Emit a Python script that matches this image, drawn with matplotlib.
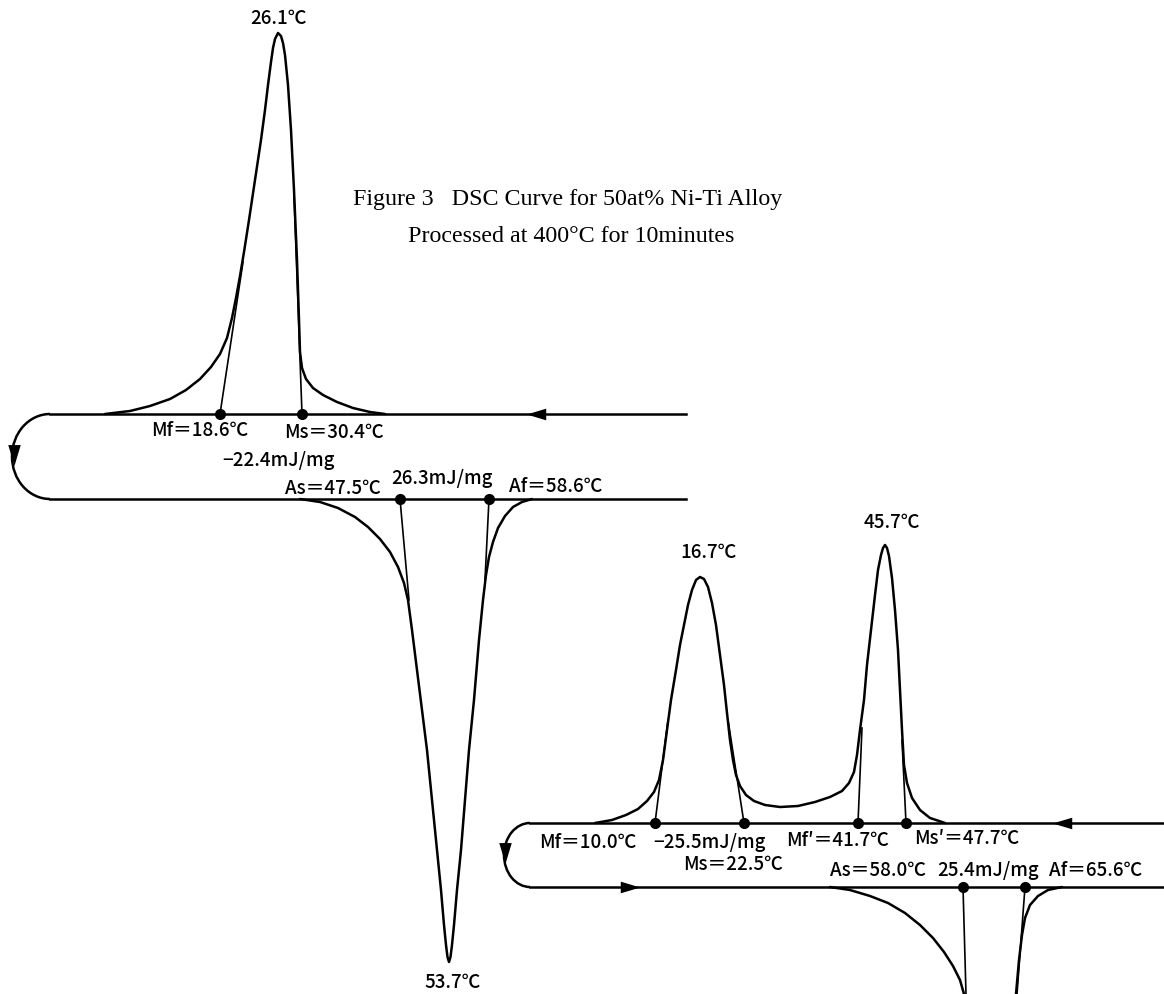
import numpy as np
import matplotlib
matplotlib.use("Agg")
import matplotlib.pyplot as plt
from matplotlib.patches import Arc
from matplotlib.path import Path

# Schematic DSC traces on a 1164 x 994 canvas (y down)
# --- 400C / 10 min sample: cooling peak (top) and heating dip (bottom)
cool1_x = [105, 130, 150, 170, 186, 200, 211, 220, 227, 232, 236, 240, 244, 249, 255, 261, 265, 268,
           271, 273, 275, 278, 281, 283, 285, 288, 291, 294, 297, 299, 300, 302, 306, 313, 323, 337,
           353, 370, 385]
cool1_y = [414, 411, 406, 399, 390, 379, 367, 354, 338, 318, 298, 276, 252, 220, 180, 140, 110, 85,
           62, 48, 39, 33, 36, 43, 55, 85, 130, 190, 260, 320, 352, 368, 379, 388, 395, 402,
           408, 412, 414]
heat1_x = [300, 320, 338, 355, 368, 380, 390, 398, 404, 408, 412, 417, 422, 427, 432, 437, 441, 444,
           446, 447.5, 449, 450.5, 452, 454, 457, 461, 465, 469, 474, 479, 483, 486, 489, 493, 498,
           505, 513, 522, 532]
heat1_y = [499, 502, 508, 517, 527, 539, 552, 567, 583, 600, 630, 670, 710, 750, 800, 850, 890, 925,
           945, 957, 962, 957, 945, 925, 890, 850, 800, 750, 700, 640, 600, 575, 557, 542, 528,
           516, 507, 502, 499]

# --- second sample: double cooling peak and heating dip
cool2_x = [595, 612, 626, 638, 647, 654, 659, 663, 667, 671, 676, 680, 684, 688, 692, 696, 700, 704,
           708, 712, 716, 720, 724, 727, 730, 733, 736, 740, 746, 754, 765, 780, 798, 815, 830, 842,
           849, 854, 857, 860, 864, 867, 871, 875, 878, 881, 883, 885, 887, 889, 892, 895, 898, 900,
           902, 904, 907, 912, 920, 930, 945]
cool2_y = [823, 820, 815, 809, 801, 792, 780, 760, 730, 700, 670, 645, 625, 605, 590, 580, 577, 579,
           587, 603, 625, 655, 685, 713, 740, 760, 775, 786, 795, 801, 805, 807, 806, 802, 797, 791,
           783, 772, 755, 730, 700, 665, 630, 595, 570, 555, 548, 545, 548, 556, 578, 610, 650, 690,
           730, 765, 783, 798, 810, 818, 823]
heat2_x = [830, 850, 870, 888, 905, 920, 933, 944, 953, 960, 964, None,
           1016, 1019, 1022, 1025, 1030, 1038, 1048, 1062]
heat2_y = [887, 890, 896, 903, 913, 925, 938, 952, 966, 980, 994, None,
           994, 960, 935, 918, 905, 896, 890, 887]

# baselines (y) and their x extent
base1_top, base1_bot, base1_x = 414, 499, (50, 686)
base2_top, base2_bot, base2_x = 823, 887, (530, 1164)

# onset / offset tangent constructions: (dot x, dot y, end x, end y)
tangents = [
    (220, 414, 243, 262), (302, 414, 294, 195),
    (400, 499, 409, 600), (489, 499, 485, 580),
    (655, 823, 668, 720), (744, 823, 728, 720),
    (858, 823, 862, 728), (906, 823, 902, 740),
    (963, 887, 966, 994), (1025, 887, 1017, 994),
]

labels = ["26.1℃", "Mf＝18.6℃", "Ms＝30.4℃", "−22.4mJ/mg", "As＝47.5℃", "26.3mJ/mg",
          "Af＝58.6℃", "53.7℃", "16.7℃", "45.7℃", "Mf＝10.0℃", "−25.5mJ/mg", "Ms＝22.5℃",
          "Mf′＝41.7℃", "Ms′＝47.7℃", "As＝58.0℃", "25.4mJ/mg", "Af＝65.6℃"]
label_pos = [(278, 19), (200, 431), (334, 432), (278, 460), (333, 488), (442, 479),
             (556, 487), (453, 982), (709, 553), (892, 522), (588, 842), (709, 842), (733, 865),
             (838, 840), (967, 838), (878, 871), (988, 871), (1096, 871)]

title1 = "Figure 3   DSC Curve for 50at% Ni-Ti Alloy"
title2 = "Processed at 400°C for 10minutes"

fig = plt.figure(figsize=(11.64, 9.94), dpi=100)
ax = fig.add_axes([0, 0, 1, 1])
ax.set_xlim(0, 1164)
ax.set_ylim(994, 0)
ax.axis("off")

lw = 1.8
k = "black"

def curve(xs, ys):
    xs = np.array([np.nan if v is None else v for v in xs], dtype=float)
    ys = np.array([np.nan if v is None else v for v in ys], dtype=float)
    ax.plot(xs, ys, color=k, lw=lw, solid_joinstyle="round", solid_capstyle="round")

curve(cool1_x, cool1_y)
curve(heat1_x, heat1_y)
curve(cool2_x, cool2_y)
curve(heat2_x, heat2_y)

for yb, (x0, x1) in [(base1_top, base1_x), (base1_bot, base1_x),
                     (base2_top, base2_x), (base2_bot, base2_x)]:
    ax.plot([x0, x1], [yb, yb], color=k, lw=lw)

# return loops on the left
for (x0, x1), yt, yb, rx in [(base1_x, base1_top, base1_bot, 38), (base2_x, base2_top, base2_bot, 26)]:
    ax.add_patch(Arc((x0, (yt + yb) / 2), 2 * rx, yb - yt, theta1=90, theta2=270,
                     color=k, lw=lw))

# arrowheads
tri_left = Path([(-1, 0), (1, 0.6), (1, -0.6), (-1, 0)])
tri_right = Path([(1, 0), (-1, 0.6), (-1, -0.6), (1, 0)])
tri_down = Path([(0, -1), (0.6, 1), (-0.6, 1), (0, -1)])
ax.plot([536], [base1_top], marker=tri_left, ms=14, color=k, mew=0)
ax.plot([1062], [base2_top], marker=tri_left, ms=14, color=k, mew=0)
ax.plot([630], [base2_bot], marker=tri_right, ms=14, color=k, mew=0)
ax.plot([14], [455], marker=tri_down, ms=15, color=k, mew=0)
ax.plot([505], [853], marker=tri_down, ms=15, color=k, mew=0)

for x0, y0, x1, y1 in tangents:
    ax.plot([x0, x1], [y0, y1], color=k, lw=1.2)
    ax.plot([x0], [y0], "o", color=k, ms=7)

lab_font = ["Noto Sans CJK JP", "DejaVu Sans"]
for t, (x, y) in zip(labels, label_pos):
    ax.text(x, y, t, ha="center", va="center", fontsize=13.5, family=lab_font,
            fontweight="medium")

ax.text(353, 200, title1, ha="left", va="center", fontsize=17.3, family="Liberation Serif")
ax.text(408, 237, title2, ha="left", va="center", fontsize=17.3, family="Liberation Serif")

fig.savefig("out.png", dpi=100)
